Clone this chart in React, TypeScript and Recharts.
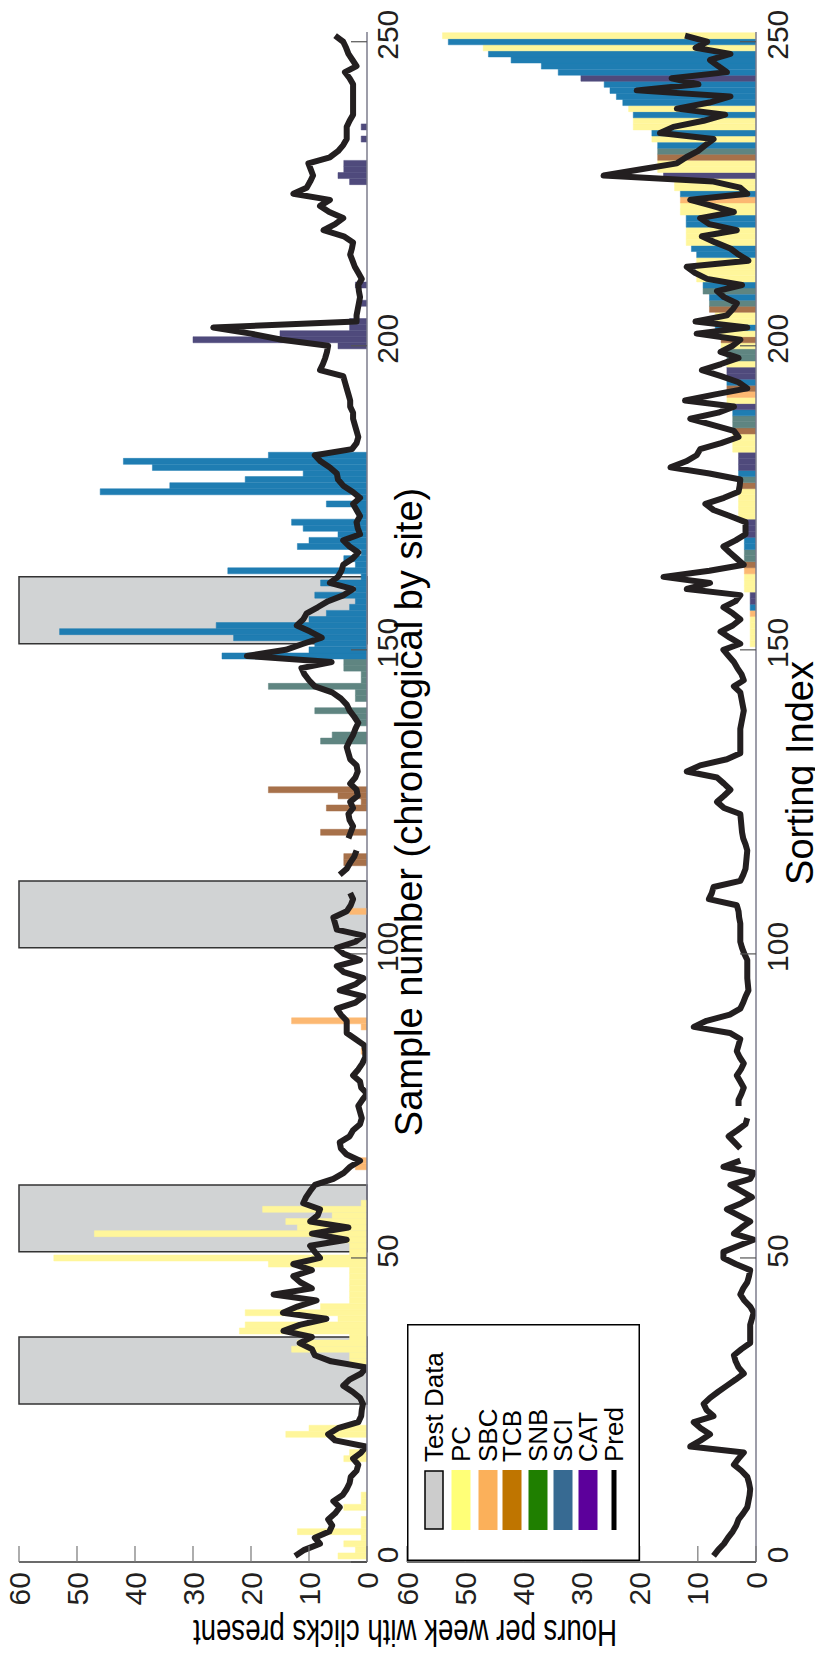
import React from 'react';
import { ComposedChart, Bar, Line, XAxis, YAxis, ReferenceArea, Cell } from 'recharts';

const FONT = '"Liberation Sans", Arial, Helvetica, sans-serif';

// figure is laid out landscape (1656 x 815) then turned a quarter turn anticlockwise
const FIG_W = 1656;
const FIG_H = 815;

const SITES = ['PC', 'SBC', 'TCB', 'SNB', 'SCI', 'CAT'];
// last chronological sample of each site
const SITE_LAST = [61, 112, 130, 148, 182, 251];
// one-letter codes used for the sorted panel
const SITE_CODES: Record<string, string> = { Y: 'PC', O: 'SBC', T: 'TCB', G: 'SNB', B: 'SCI', P: 'CAT' };

const BAR_COLORS: Record<string, string> = {
  PC: '#fff69b',
  SBC: '#fcb872',
  TCB: '#a7714a',
  SNB: '#5f8581',
  SCI: '#1f7db2',
  CAT: '#4f4a7c',
};
const LEGEND_COLORS: Record<string, string> = {
  PC: '#ffff77',
  SBC: '#fbb05a',
  TCB: '#bf7500',
  SNB: '#1f7f00',
  SCI: '#376a92',
  CAT: '#5c009b',
};

const TEST_BLOCKS = [[26, 37], [51, 62], [101, 112], [151, 162]];
const X_TICKS = [0, 50, 100, 150, 200, 250];
const Y_TICKS = [0, 10, 20, 30, 40, 50, 60];
const X_DOMAIN = [0, 251.6];

// hours per week, samples 1..251 in chronological order
const HOURS = [
  5, 2, 4, 1, 12, 1, 1, 0, 4, 1,
  1, 0, 0, 0, 0, 0, 4, 3, 0, 0,
  14, 10, 0, 0, 0, 0, 0, 0, 0, 0,
  0, 0, 3, 3, 13, 12, 3, 22, 21, 5,
  21, 8, 3, 3, 3, 3, 3, 3, 17, 54,
  3, 3, 5, 47, 12, 14, 6, 18, 1, 0,
  0, 0, 0, 0, 2, 2, 0, 0, 0, 0,
  0, 0, 0, 0, 0, 0, 0, 0, 0, 0,
  0, 0, 0, 1, 0, 0, 0, 1, 13, 0,
  0, 0, 0, 0, 0, 0, 0, 0, 0, 0,
  0, 0, 0, 0, 0, 0, 3, 0, 0, 0,
  0, 0, 0, 0, 4, 4, 0, 0, 0, 8,
  0, 0, 0, 7, 1, 5, 17, 0, 0, 0,
  0, 0, 0, 0, 8, 6, 0, 2, 2, 9,
  0, 2, 2, 17, 1, 1, 4, 4, 25, 10,
  9, 23, 53, 26, 10, 7, 3, 2, 9, 2,
  8, 1, 24, 2, 4, 1, 12, 10, 5, 11,
  13, 1, 2, 7, 1, 46, 34, 21, 11, 37,
  42, 17, 0, 0, 0, 0, 0, 0, 0, 0,
  0, 0, 0, 0, 0, 0, 0, 0, 0, 5,
  30, 15, 3, 3, 0, 0, 1, 0, 0, 2,
  0, 0, 0, 0, 0, 0, 0, 0, 0, 0,
  0, 0, 0, 0, 0, 0, 3, 5, 4, 4,
  0, 0, 0, 1, 0, 1, 0, 0, 0, 0,
  0, 0, 0, 0, 0, 0, 0, 0, 0, 0,
  0,
];

// model prediction, chronological order (null = gap in the line)
const PRED = [
  12.4, 10.8, 8.1, 9.0, 6.5, 6.0, 6.7, 5.5, 4.7, 5.8,
  4.2, 3.5, 3.0, 2.8, 1.8, 1.5, 2.4, 1.0, 0.2, 5.5,
  6.7, 5.0, 1.5, 1.0, 0.9, 0.7, 1.2, 2.5, 4.1, 3.0,
  1.0, 0.1, 6.2, 9.0, 9.5, 11.6, 9.5, 14.4, 11.6, 7.0,
  14.5, 12.0, 8.7, 16.1, 9.5, 11.5, 12.7, 9.5, 12.7, 8.1,
  9.0, 9.8, 3.5, 9.5, 3.2, 9.8, 8.5, 8.1, 11.0, 10.5,
  9.8, 9.0, 5.8, 4.0, 2.9, 1.2, 3.5, 4.5, 4.7, 3.0,
  2.4, 1.2, 0.9, 1.2, 1.5, 0.8, 0.0, 1.0, 1.2, 2.4,
  1.5, 0.8, 0.3, 0.3, 0.5, 2.0, 3.5, 3.5, 3.5, 4.5,
  5.2, 2.0, 0.6, 4.7, 2.0, 0.6, 4.0, 5.2, 1.2, 4.0,
  5.2, 2.0, 0.6, 5.2, 5.5, 5.8, 3.5, 2.8, 2.4, 2.9,
  null, null, 4.7, 3.5, 2.9, 2.2, 1.8, null, 3.2, 2.8,
  2.4, 3.0, 3.2, 2.4, 2.9, 1.6, 1.8, 2.9, 2.0, 1.6,
  1.8, 2.9, 3.2, 3.5, 3.0, 2.4, 2.0, 1.5, 2.2, 3.0,
  3.5, 4.5, 6.0, 9.0, 10.0, 10.8, 11.3, 6.1, 20.7, 14.0,
  11.0, 7.8, 9.8, 12.1, 11.0, 10.4, 8.5, 6.7, 4.0, 2.4,
  6.4, 5.0, 4.4, 4.1, 2.5, 1.5, 3.0, 4.1, 1.2, 1.6,
  1.8, 1.2, 1.8, 2.4, 1.2, 2.5, 4.1, 5.0, 5.2, 6.4,
  8.0, 9.0, 2.6, 1.8, 1.5, 1.8, 2.1, 2.4, 2.4, 2.9,
  2.9, 3.2, 3.5, 3.8, 4.1, 8.1, 7.6, 7.2, 6.9, 6.7,
  14.7, 20.0, 26.5, 1.8, 1.8, 1.6, 1.4, 1.2, 1.4, 1.5,
  0.9, 1.5, 2.1, 2.5, 2.9, 2.6, 2.4, 4.0, 7.5, 5.5,
  4.1, 6.5, 8.1, 6.4, 12.7, 10.4, 9.8, 9.3, 9.7, 10.1,
  6.4, 5.0, 4.1, 3.5, 3.5, 3.5, 3.0, 2.4, 2.4, 2.4,
  2.4, 2.4, 2.4, 3.0, 3.8, 1.8, 2.5, 3.2, 3.6, 4.1,
  5.5,
];

// sorted panel: bars only from sorting index 151 upward
const SORTED_FIRST = 151;
const SORTED_HOURS = [
  1, 1, 1, 1, 1, 1, 1, 1, 1,
  2, 2, 2, 2, 2, 2, 2, 2, 2, 2, 2, 2,
  3, 3, 3, 3, 3, 3, 3, 3, 3, 3, 3,
  4, 4, 4, 4, 4, 4, 4, 4,
  5, 5, 5, 5, 5, 5, 5, 5, 5,
  6, 6, 6, 7, 7, 7, 8, 8, 8, 9.1, 9.1,
  10.2, 10.2, 10.2, 10.2, 10.2, 11.1,
  12, 12, 12, 12, 12, 13, 13, 13, 13, 14, 14, 15.9,
  16.9, 16.9, 16.9, 16.9, 16.9, 17.9, 17.9,
  21.1, 21.1, 21.1, 21.9, 22.9, 24.0, 25.1, 26.1, 30.1,
  34.0, 36.9, 42.1, 46.0, 46.9, 52.9, 53.9,
];
const SORTED_SITE = (
  'YYYYYOBPPYYYOTGGBBPPP' +
  'YYYYYTGBPPP' +
  'YYYTGGBP' +
  'YOTBPPYGG' +
  'YTYBYYTGBGB' +
  'YYYYBBYYYBBYYOBYYP' +
  'YYTGBYBYYBYBBBBPBBBBYBY'
).split('');

// prediction along the sorting index
const SORTED_PRED = [
  7.3, 6.5, 5.5, 4.8, 4.0, 3.4, 3.0, 2.2, 1.5, 1.3,
  1.1, 1.0, 1.2, 1.5, 2.5, 3.8, 3.0, 2.1, 11.3, 9.5,
  7.9, 9.5, 10.7, 7.3, 8.5, 9.0, 7.9, 6.5, 5.0, 3.5,
  2.1, 3.0, 3.5, 3.8, 2.5, 1.0, 1.0, 1.0, 1.0, 0.7,
  0.4, 1.0, 2.0, 2.7, 2.2, 1.5, 1.2, 1.0, 3.5, 5.6,
  5.6, 3.0, 0.4, 3.8, 2.5, 1.0, 3.0, 5.0, 2.5, 0.7,
  2.5, 4.4, 1.0, 0.4, 5.6, 2.7, null, 2.7, 3.7, 4.7,
  3.2, 1.8, 1.5, null, 3.0, 3.0, 2.5, 2.1, 2.7, 3.3,
  2.6, 2.1, 2.8, 3.3, 3.0, 2.7, 4.5, 10.7, 8.5, 4.5,
  2.7, 2.2, 1.8, 1.3, 1.4, 1.5, 1.5, 1.5, 1.5, 2.0,
  2.4, 2.7, 2.7, 2.7, 2.7, 2.9, 3.0, 3.3, 8.1, 7.6,
  7.3, 2.7, 2.2, 1.8, 1.7, 1.6, 1.5, 1.8, 2.2, 2.4,
  2.5, 2.6, 2.7, 5.5, 6.7, 5.5, 4.4, 5.5, 6.7, 11.9,
  9.6, 5.0, 2.7, 2.7, 2.7, 2.7, 2.7, 2.5, 2.3, 2.1,
  2.3, 2.5, 2.7, 3.8, 2.1, 2.5, 3.2, 3.8, 4.7, 5.6,
  2.7, 4.5, 6.1, 4.0, 2.7, 4.0, 5.6, 3.5, 2.7, 11.9,
  7.9, 15.9, 8.0, 2.1, 3.3, 4.5, 5.6, 3.5, 1.8, 1.8,
  1.8, 4.5, 7.3, 8.7, 5.5, 3.0, 2.8, 2.7, 8.0, 14.7,
  12.0, 10.2, 9.6, 6.0, 3.0, 3.8, 7.5, 11.3, 6.5, 3.8,
  12.2, 7.0, 1.5, 3.0, 6.0, 9.3, 6.0, 3.0, 6.1, 4.0,
  2.7, 10.2, 1.5, 10.4, 5.0, 4.0, 3.3, 5.5, 6.7, 2.4,
  8.4, 10.5, 11.9, 1.3, 3.0, 4.4, 7.0, 9.3, 3.3, 8.0,
  9.6, 3.8, 7.5, 11.3, 1.5, 2.7, 7.3, 26.2, 20.0, 13.6,
  12.0, 10.0, 8.7, 7.3, 16.5, 14.2, 9.0, 5.3, 13.6, 8.0,
  4.4, 20.5, 9.9, 14.5, 5.0, 6.5, 7.9, 4.4, 10.4, 8.4,
  12.2,
];

type Row = { s: number; hours: number; site: string; pred: number | null };

const chronoRows: Row[] = HOURS.map((h, i) => {
  const s = i + 1;
  return { s, hours: h, site: SITES[SITE_LAST.findIndex((last) => s <= last)], pred: PRED[i] };
});

const sortedRows: Row[] = SORTED_PRED.map((p, i) => {
  const s = i + 1;
  const j = s - SORTED_FIRST;
  return {
    s,
    hours: j >= 0 ? SORTED_HOURS[j] : 0,
    site: j >= 0 ? SITE_CODES[SORTED_SITE[j]] : 'PC',
    pred: p,
  };
});

const AXIS_TICK = { fontSize: 30, fill: '#231f20', fontFamily: FONT };
// sample-number labels sit a little ahead of their tick marks in the original
const X_AXIS_TICK = { ...AXIS_TICK, dx: 7 };

const Panel = ({ rows, top, height, marginTop, xAxisHeight, xTickMargin, boxed, xLine }: {
  rows: Row[]; top: number; height: number; marginTop: number; xAxisHeight: number;
  xTickMargin: number; boxed: boolean; xLine: string;
}) => (
  <div style={{ position: 'absolute', left: 0, top }}>
    <ComposedChart
      width={FIG_W}
      height={height}
      data={rows}
      margin={{ top: marginTop, right: 32, bottom: 0, left: 0 }}
      barCategoryGap={0}
      barGap={0}
    >
      <XAxis
        dataKey="s"
        type="number"
        domain={X_DOMAIN}
        ticks={X_TICKS}
        interval={0}
        height={xAxisHeight}
        tickSize={-16}
        tickMargin={xTickMargin}
        axisLine={{ stroke: xLine, strokeWidth: 1.5 }}
        tickLine={{ stroke: '#555', strokeWidth: 1.2 }}
        tick={X_AXIS_TICK}
        allowDataOverflow
      />
      <YAxis
        type="number"
        domain={[0, 60]}
        ticks={Y_TICKS}
        interval={0}
        width={94}
        tickSize={-16}
        tickMargin={26}
        axisLine={{ stroke: '#3a3a3a', strokeWidth: 1.5 }}
        tickLine={{ stroke: '#777', strokeWidth: 1.2 }}
        tick={AXIS_TICK}
        allowDataOverflow
      />
      {boxed && (
        <XAxis
          xAxisId="top"
          orientation="top"
          type="number"
          domain={X_DOMAIN}
          ticks={X_TICKS}
          interval={0}
          height={0}
          tickSize={-16}
          tick={false}
          axisLine={{ stroke: '#444', strokeWidth: 1.5 }}
          tickLine={{ stroke: '#555', strokeWidth: 1.2 }}
          allowDataOverflow
        />
      )}
      {boxed && (
        <YAxis
          yAxisId="right"
          orientation="right"
          type="number"
          domain={[0, 60]}
          ticks={Y_TICKS}
          interval={0}
          width={0}
          tickSize={-16}
          tick={false}
          axisLine={{ stroke: '#444', strokeWidth: 1.5 }}
          tickLine={{ stroke: '#777', strokeWidth: 1.2 }}
          allowDataOverflow
        />
      )}
      {boxed &&
        TEST_BLOCKS.map(([a, b]) => (
          <ReferenceArea
            key={a}
            x1={a}
            x2={b}
            y1={0}
            y2={60}
            fill="#d1d3d4"
            fillOpacity={1}
            stroke="#333"
            strokeWidth={1.5}
          />
        ))}
      <Bar dataKey="hours" isAnimationActive={false}>
        {rows.map((r, i) => (
          <Cell key={`cell-${i}`} fill={BAR_COLORS[r.site]} stroke={BAR_COLORS[r.site]} strokeWidth={0.5} />
        ))}
      </Bar>
      <Line
        dataKey="pred"
        type="linear"
        stroke="#231f20"
        strokeWidth={6}
        strokeLinejoin="round"
        dot={false}
        activeDot={false}
        connectNulls={false}
        isAnimationActive={false}
      />
    </ComposedChart>
  </div>
);

const LEGEND_ROWS = [
  { name: 'Test Data', y: 434 },
  { name: 'PC', y: 461 },
  { name: 'SBC', y: 488 },
  { name: 'TCB', y: 512 },
  { name: 'SNB', y: 538 },
  { name: 'SCI', y: 563 },
  { name: 'CAT', y: 588 },
  { name: 'Pred', y: 614 },
];

const LegendBox = () => {
  const left = 95;
  const top = 407;
  return (
    <svg
      width={237}
      height={233}
      style={{ position: 'absolute', left, top, background: '#fff' }}
    >
      <rect x={0.75} y={0.75} width={235.5} height={231.5} fill="#fff" stroke="#000" strokeWidth={1.5} />
      {LEGEND_ROWS.map((r) => {
        const cy = r.y - top;
        let swatch;
        if (r.name === 'Pred') {
          swatch = <line x1={31} x2={91} y1={cy} y2={cy} stroke="#000" strokeWidth={5} />;
        } else if (r.name === 'Test Data') {
          swatch = <rect x={32} y={cy - 9} width={58} height={18} fill="#cccccc" stroke="#000" strokeWidth={1.5} />;
        } else {
          swatch = <rect x={31} y={cy - 9.5} width={60} height={19} fill={LEGEND_COLORS[r.name]} />;
        }
        return (
          <g key={r.name}>
            {swatch}
            <text x={99} y={cy + 9} fontSize={26} fontFamily={FONT} fill="#000">
              {r.name}
            </text>
          </g>
        );
      })}
    </svg>
  );
};

const Titles = () => (
  <svg width={FIG_W} height={FIG_H} style={{ position: 'absolute', left: 0, top: 0, pointerEvents: 'none' }}>
    <text x={844} y={422} textAnchor="middle" fontSize={38} fontFamily={FONT} fill="#000">
      Sample number (chronological by site)
    </text>
    <text x={883} y={813} textAnchor="middle" fontSize={38} fontFamily={FONT} fill="#000">
      Sorting Index
    </text>
    <text
      transform="translate(36,405) rotate(-90)"
      textAnchor="middle"
      fontSize={37}
      fontFamily={FONT}
      fill="#000"
      textLength={424}
      lengthAdjust="spacingAndGlyphs"
    >
      Hours per week with clicks present
    </text>
  </svg>
);

export default function App() {
  return (
    <div
      style={{
        position: 'absolute',
        left: 0,
        top: 0,
        width: FIG_H,
        height: FIG_W,
        overflow: 'hidden',
        background: '#fff',
      }}
    >
      <div
        style={{
          position: 'absolute',
          left: 0,
          top: 0,
          width: FIG_W,
          height: FIG_H,
          transformOrigin: '0 0',
          transform: `translate(0px, ${FIG_W}px) rotate(-90deg)`,
        }}
      >
        <Panel rows={chronoRows} top={0} height={430} marginTop={19} xAxisHeight={63} xTickMargin={26} boxed xLine="#7d7d8c" />
        <Panel rows={sortedRows} top={395} height={420} marginTop={12} xAxisHeight={59} xTickMargin={27} boxed={false} xLine="#7d7d8c" />
        <Titles />
        <LegendBox />
      </div>
    </div>
  );
}
